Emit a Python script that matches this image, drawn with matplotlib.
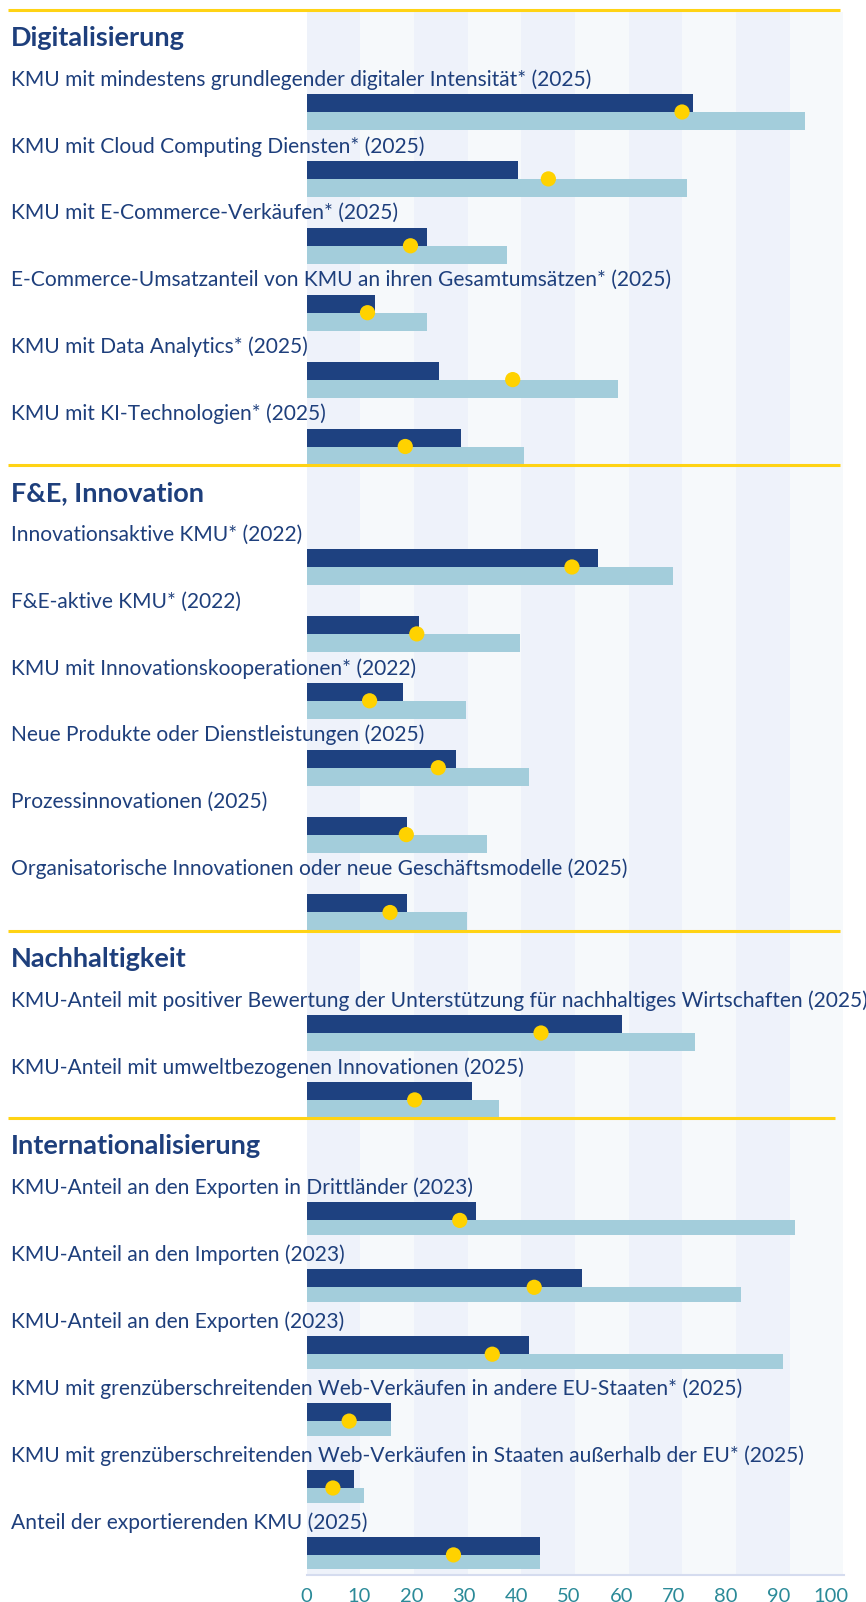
import numpy as np
import matplotlib.pyplot as plt
from matplotlib import transforms

plt.rcParams['font.family'] = ['Lato', 'DejaVu Sans']

# data
sections = ["Digitalisierung", "F&E, Innovation", "Nachhaltigkeit", "Internationalisierung"]
section_sizes = [6, 6, 2, 6]
labels = [
    "KMU mit mindestens grundlegender digitaler Intensität* (2025)",
    "KMU mit Cloud Computing Diensten* (2025)",
    "KMU mit E-Commerce-Verkäufen* (2025)",
    "E-Commerce-Umsatzanteil von KMU an ihren Gesamtumsätzen* (2025)",
    "KMU mit Data Analytics* (2025)",
    "KMU mit KI-Technologien* (2025)",
    "Innovationsaktive KMU* (2022)",
    "F&E-aktive KMU* (2022)",
    "KMU mit Innovationskooperationen* (2022)",
    "Neue Produkte oder Dienstleistungen (2025)",
    "Prozessinnovationen (2025)",
    "Organisatorische Innovationen oder neue Geschäftsmodelle (2025)",
    "KMU-Anteil mit positiver Bewertung der Unterstützung für nachhaltiges Wirtschaften (2025)",
    "KMU-Anteil mit umweltbezogenen Innovationen (2025)",
    "KMU-Anteil an den Exporten in Drittländer (2023)",
    "KMU-Anteil an den Importen (2023)",
    "KMU-Anteil an den Exporten (2023)",
    "KMU mit grenzüberschreitenden Web-Verkäufen in andere EU-Staaten* (2025)",
    "KMU mit grenzüberschreitenden Web-Verkäufen in Staaten außerhalb der EU* (2025)",
    "Anteil der exportierenden KMU (2025)",
]
at_values = [73.6, 40.3, 22.9, 13.0, 25.3, 29.4,
             55.6, 21.4, 18.3, 28.4, 19.2, 19.2,
             60.1, 31.5,
             32.3, 52.5, 42.4, 16.1, 9.1, 44.5]
max_values = [95.0, 72.6, 38.3, 22.9, 59.4, 41.4,
              69.9, 40.6, 30.3, 42.4, 34.4, 30.5,
              74.1, 36.6,
              93.2, 82.9, 90.9, 16.1, 11.0, 44.5]
eu_values = [71.6, 46.1, 19.8, 11.6, 39.3, 18.8,
             50.6, 21.0, 12.0, 25.1, 19.0, 15.9,
             44.7, 20.6,
             29.2, 43.4, 35.4, 8.1, 5.0, 28.0]

navy = '#1e4180'
light = '#a3cddb'
gold = '#ffd200'
line_col = '#ffd314'
text_col = '#1e3f7c'
tick_col = '#2b8a98'

W, H = 866, 1602
fig = plt.figure(figsize=(W/100, H/100), dpi=100)
x0_px, x1_px, axis_px = 306.7, 843.5, 1575
ax = fig.add_axes([x0_px/W, 1 - axis_px/H, (x1_px - x0_px)/W, axis_px/H])
xmax = 102.4
ax.set_xlim(0, xmax)
ax.set_ylim(axis_px, 0)
ax.set_facecolor('none')

# layout in pixel rows from the top
pitch = 66.9
line_y, title_y, label_y, bar_y, light_h = [], [], [], [], []
y = 10
i = 0
for s, n in enumerate(section_sizes):
    line_y.append(y)
    title_y.append(y + 26)
    ly = y + 26 + 41.5
    for k in range(n):
        label_y.append(ly)
        extra = 11 if labels[i].startswith("Organisatorische") else 0
        bar_y.append(ly + 34.5 + extra)
        light_h.append(14.5 if s == 3 else 18)
        ly += pitch
        i += 1
    y = bar_y[-1] + 18.5
bar_y = np.array(bar_y)
light_h = np.array(light_h)

# background stripes
for k in range(10):
    ax.bar(k*xmax/10, axis_px - 12, bottom=12, width=xmax/10, align='edge',
           color='#eef2fa' if k % 2 == 0 else '#f6f9fb', zorder=0, linewidth=0)

ax.barh(bar_y + light_h/2, max_values, height=light_h, color=light, zorder=2, linewidth=0)
ax.barh(bar_y - 9, at_values, height=18, color=navy, zorder=3, linewidth=0)
ax.scatter(eu_values, bar_y, s=120, color=gold, edgecolors='none', zorder=4)

tr = transforms.blended_transform_factory(fig.transFigure, ax.transData)
for ly, lab in zip(label_y, labels):
    ax.text(11/W, ly + 2, lab, transform=tr, fontsize=15.1, color=text_col,
            va='center', ha='left', zorder=5)
for ty, t in zip(title_y, sections):
    ax.text(11/W, ty + 2, t, transform=tr, fontsize=19.5, fontweight='bold',
            color=text_col, va='center', ha='left', zorder=5)
line_end = [840, 840, 840, 835]
for yl, xe in zip(line_y, line_end):
    ax.plot([8/W, xe/W], [yl, yl], transform=tr, color=line_col, lw=2.2,
            clip_on=False, zorder=5, solid_capstyle='butt')

ax.set_xticks(range(0, 101, 10))
ax.set_yticks([])
ax.tick_params(axis='x', length=0, pad=9, labelsize=14.5, labelcolor=tick_col)
for side in ['top', 'left', 'right']:
    ax.spines[side].set_visible(False)
ax.spines['bottom'].set_color('#d5dcef')
ax.spines['bottom'].set_linewidth(1.5)

fig.savefig('out.png', dpi=100)
